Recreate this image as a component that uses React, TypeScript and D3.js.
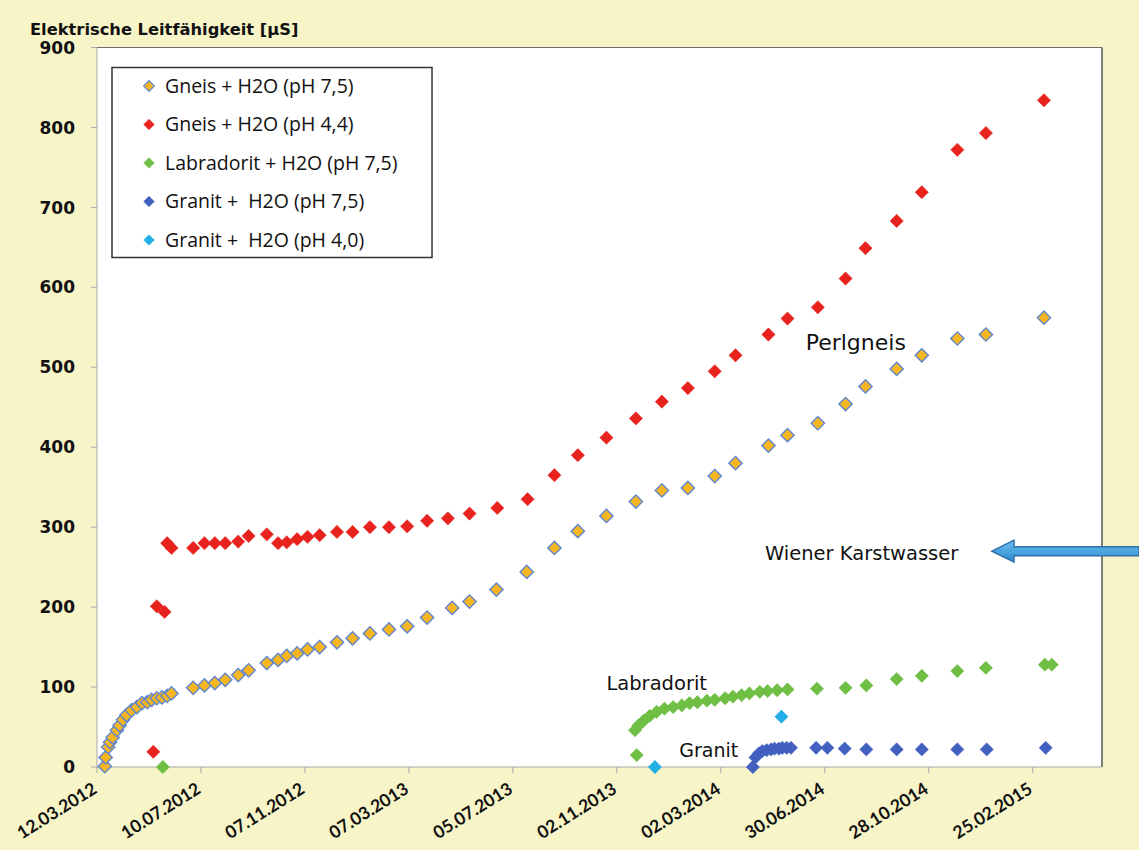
import React from "react";
import * as d3 from "d3";

const W = 1139;
const H = 850;

const X_START = "12.03.2012";
const X_END = "16.05.2015";
const xTickLabels = [
  "12.03.2012", "10.07.2012", "07.11.2012", "07.03.2013", "05.07.2013",
  "02.11.2013", "02.03.2014", "30.06.2014", "28.10.2014", "25.02.2015",
];
const yTickValues = [0, 100, 200, 300, 400, 500, 600, 700, 800, 900];
const yTitle = "Elektrische Leitfähigkeit [µS]";

const seriesNames = [
  "Gneis + H2O (pH 7,5)",
  "Gneis + H2O (pH 4,4)",
  "Labradorit + H2O (pH 7,5)",
  "Granit +  H2O (pH 7,5)",
  "Granit +  H2O (pH 4,0)",
];

const gneis75Dates = [
  "21.03.2012", "22.03.2012", "25.03.2012", "27.03.2012", "30.03.2012", "04.04.2012",
  "07.04.2012", "11.04.2012", "15.04.2012", "21.04.2012", "27.04.2012", "03.05.2012",
  "09.05.2012", "14.05.2012", "20.05.2012", "26.05.2012", "01.06.2012", "06.06.2012",
  "01.07.2012", "14.07.2012", "26.07.2012", "07.08.2012", "22.08.2012", "03.09.2012",
  "24.09.2012", "07.10.2012", "17.10.2012", "29.10.2012", "10.11.2012", "24.11.2012",
  "14.12.2012", "01.01.2013", "21.01.2013", "12.02.2013", "05.03.2013", "28.03.2013",
  "26.04.2013", "16.05.2013", "16.06.2013", "21.07.2013", "22.08.2013", "18.09.2013",
  "21.10.2013", "24.11.2013", "24.12.2013", "23.01.2014", "23.02.2014", "19.03.2014",
  "26.04.2014", "18.05.2014", "22.06.2014", "24.07.2014", "16.08.2014", "21.09.2014",
  "20.10.2014", "30.11.2014", "02.01.2015", "10.03.2015",
];
const gneis75Values = [
  1, 12, 25, 31, 37, 46,
  52, 59, 65, 71, 75, 80,
  81, 84, 86, 87, 89, 92,
  99, 102, 105, 109, 115, 121,
  130, 134, 139, 142, 147, 150,
  156, 161, 167, 172, 176, 187,
  199, 207, 222, 244, 274, 295,
  314, 332, 346, 349, 364, 380,
  402, 415, 430, 454, 476, 498,
  515, 536, 541, 562,
];

const gneis44Dates = [
  "16.05.2012", "20.05.2012", "29.05.2012", "01.06.2012", "06.06.2012",
  "01.07.2012", "14.07.2012", "26.07.2012", "07.08.2012", "22.08.2012", "03.09.2012",
  "24.09.2012", "07.10.2012", "17.10.2012", "29.10.2012", "10.11.2012", "24.11.2012",
  "14.12.2012", "01.01.2013", "21.01.2013", "12.02.2013", "05.03.2013", "28.03.2013",
  "21.04.2013", "16.05.2013", "17.06.2013", "22.07.2013", "22.08.2013", "18.09.2013",
  "21.10.2013", "24.11.2013", "24.12.2013", "23.01.2014", "23.02.2014", "19.03.2014",
  "26.04.2014", "18.05.2014", "22.06.2014", "24.07.2014", "16.08.2014", "21.09.2014",
  "20.10.2014", "30.11.2014", "02.01.2015", "10.03.2015",
];
const gneis44Values = [
  19, 201, 194, 280, 274,
  274, 280, 280, 280, 282, 289,
  291, 280, 281, 285, 288, 290,
  294, 294, 300, 300, 301, 308,
  311, 317, 324, 335, 365, 390,
  412, 436, 457, 474, 495, 515,
  541, 561, 575, 611, 649, 683,
  719, 772, 793, 834,
];

const labradoritDates = [
  "27.05.2012", "25.11.2013", "23.11.2013", "27.11.2013", "03.12.2013", "10.12.2013",
  "18.12.2013", "27.12.2013", "06.01.2014", "16.01.2014", "25.01.2014", "03.02.2014",
  "14.02.2014", "23.02.2014", "07.03.2014", "16.03.2014", "26.03.2014", "04.04.2014",
  "16.04.2014", "25.04.2014", "06.05.2014", "18.05.2014", "21.06.2014", "24.07.2014",
  "17.08.2014", "21.09.2014", "20.10.2014", "30.11.2014", "02.01.2015", "11.03.2015",
  "19.03.2015",
];
const labradoritValues = [
  0, 15, 46, 52, 58, 64,
  69, 73, 75, 77, 80, 81,
  83, 84, 86, 88, 90, 92,
  94, 95, 96, 97, 98, 99,
  102, 110, 114, 120, 124, 128,
  128,
];

const granit75Dates = [
  "08.04.2014", "11.04.2014", "15.04.2014", "19.04.2014", "24.04.2014", "29.04.2014",
  "03.05.2014", "08.05.2014", "12.05.2014", "17.05.2014", "22.05.2014", "20.06.2014",
  "03.07.2014", "23.07.2014", "17.08.2014", "21.09.2014", "20.10.2014", "30.11.2014",
  "03.01.2015", "12.03.2015",
];
const granit75Values = [
  0, 12, 17, 20, 21, 22,
  23, 23, 24, 24, 24, 24,
  24, 23, 22, 22, 22, 22,
  22, 24,
];

const granit40Dates = ["16.12.2013", "11.05.2014"];
const granit40Values = [0, 63];

const seriesFill = ["#f5b622", "#e8231d", "#6fbf45", "#4260c0", "#22ade6"];
const seriesStroke = ["#5f86cf", "#e8231d", "#6fbf45", "#4260c0", "#22ade6"];

const annotations = [
  { text: "Perlgneis", date: "08.06.2014", value: 522, size: 22 },
  { text: "Wiener Karstwasser", date: "22.04.2014", value: 259, size: 19.5 },
  { text: "Labradorit", date: "21.10.2013", value: 96, size: 19.5 },
  { text: "Granit", date: "13.01.2014", value: 13, size: 19 },
];

const parse = d3.utcParse("%d.%m.%Y");

export default function App() {
  const left = 97, right = 1102, top = 47.5, bottom = 767;
  const x = d3.scaleUtc().domain([parse(X_START)!, parse(X_END)!]).range([left, right]);
  const y = d3.scaleLinear().domain([0, 900]).range([bottom, top]);

  const series = [
    { dates: gneis75Dates, values: gneis75Values },
    { dates: gneis44Dates, values: gneis44Values },
    { dates: labradoritDates, values: labradoritValues },
    { dates: granit75Dates, values: granit75Values },
    { dates: granit40Dates, values: granit40Values },
  ];

  const marker = d3.symbol(d3.symbolSquare, 88)();
  const legendMarker = d3.symbol(d3.symbolSquare, 56)();

  const arrowY = y(270);
  const tipX = 992, tailX = 1139, headLen = 22, headHalf = 11, shaftHalf = 4.5;
  const arrowPath = `M${tipX},${arrowY} L${tipX + headLen},${arrowY - headHalf} L${tipX + headLen},${arrowY - shaftHalf} L${tailX},${arrowY - shaftHalf} L${tailX},${arrowY + shaftHalf} L${tipX + headLen},${arrowY + shaftHalf} L${tipX + headLen},${arrowY + headHalf} Z`;

  return (
    <svg width={W} height={H} style={{ position: "absolute", left: 0, top: 0, display: "block" }}>
      <defs>
        <linearGradient id="arrowGrad" x1="0" y1="0" x2="0" y2="1">
          <stop offset="0" stopColor="#6fc0f0" />
          <stop offset="1" stopColor="#2a8bd0" />
        </linearGradient>
      </defs>
      <rect x={0} y={0} width={W} height={H} fill="#f7f4c8" />
      <rect x={left} y={top} width={right - left} height={bottom - top} fill="#ffffff" />
      {/* frame */}
      <line x1={left} x2={right} y1={top} y2={top} stroke="#6b6b6b" strokeWidth={1.2} />
      <line x1={right} x2={right} y1={top} y2={bottom} stroke="#555" strokeWidth={1.5} />
      <line x1={left} x2={left} y1={top} y2={bottom} stroke="#a8a8a8" strokeWidth={1} />
      <line x1={left} x2={right} y1={bottom} y2={bottom} stroke="#a8a8a8" strokeWidth={1} />

      {/* y ticks */}
      {yTickValues.map((v) => (
        <g key={"y" + v}>
          <line x1={left - 6} x2={left} y1={y(v)} y2={y(v)} stroke="#a8a8a8" />
          <text x={75} y={y(v)} dy="0.36em" textAnchor="end" fontFamily="DejaVu Sans" fontWeight="bold" fontSize={17} fill="#111">
            {v}
          </text>
        </g>
      ))}
      {/* x ticks */}
      {xTickLabels.map((s) => {
        const xv = x(parse(s)!);
        return (
          <g key={"x" + s}>
            <line x1={xv} x2={xv} y1={bottom} y2={bottom + 6} stroke="#a8a8a8" />
            <text
              transform={`translate(${xv + 1},${bottom + 25}) rotate(-32)`}
              textAnchor="end"
              fontFamily="Lato"
              fontWeight="bold"
              fontSize={17.5}
              fill="#111"
            >
              {s}
            </text>
          </g>
        );
      })}

      <text x={30} y={35} fontFamily="DejaVu Sans" fontWeight="bold" fontSize={16.3} fill="#111">
        {yTitle}
      </text>

      {/* series */}
      {series.map((s, i) => (
        <g key={"s" + i}>
          {s.dates.map((d, j) => (
            <path
              key={j}
              d={marker}
              transform={`translate(${x(parse(d)!)},${y(s.values[j])}) rotate(45)`}
              fill={seriesFill[i]}
              stroke={seriesStroke[i]}
              strokeWidth={i === 0 ? 1.4 : 0.5}
            />
          ))}
        </g>
      ))}

      {/* annotations */}
      {annotations.map((a) => (
        <text key={a.text} x={x(parse(a.date)!)} y={y(a.value)} fontFamily="DejaVu Sans" fontSize={a.size} fill="#111">
          {a.text}
        </text>
      ))}
      <path d={arrowPath} fill="url(#arrowGrad)" stroke="#2f6faa" strokeWidth={1.5} />

      {/* legend */}
      <rect x={112} y={67.5} width={320} height={190} fill="#ffffff" stroke="#333" strokeWidth={1.5} />
      {seriesNames.map((n, i) => {
        const ly = 86 + i * 38.5;
        return (
          <g key={"l" + i}>
            <path d={legendMarker} transform={`translate(149,${ly}) rotate(45)`} fill={seriesFill[i]} stroke={seriesStroke[i]} strokeWidth={i === 0 ? 1.2 : 0.5} />
            <text x={165} y={ly} dy="0.35em" fontFamily="Open Sans" fontSize={19.5} fill="#111" style={{ whiteSpace: "pre" }}>
              {n}
            </text>
          </g>
        );
      })}
    </svg>
  );
}
